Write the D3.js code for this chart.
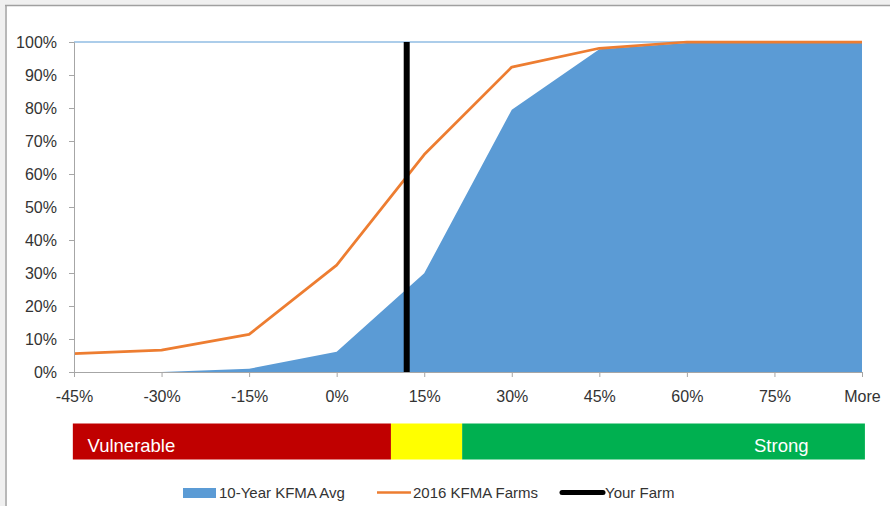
<!DOCTYPE html>
<html>
<head>
<meta charset="utf-8">
<script src="https://cdn.jsdelivr.net/npm/d3@7"></script>
<style>
  html, body { margin: 0; padding: 0; background: #ffffff; }
  svg { display: block; font-family: "Liberation Sans", Arial, sans-serif; }
</style>
</head>
<body>
<svg id="chart" width="890" height="506"></svg>
<script>
// ---- data ----
const categories = ["-45%", "-30%", "-15%", "0%", "15%", "30%", "45%", "60%", "75%", "More"];
const categoryValues = [-45, -30, -15, 0, 15, 30, 45, 60, 75, 90];
const tenYearAvg = [0, 0, 1.0, 6.1, 29.9, 79.5, 97.8, 99.7, 100, 100];
const farms2016 = [5.6, 6.6, 11.4, 32.4, 65.9, 92.4, 98.1, 100, 100, 100];
const yourFarm = 12;
const yTicks = [0, 10, 20, 30, 40, 50, 60, 70, 80, 90, 100];
const bandNames = ["Vulnerable", "", "Strong"];
const bandStarts = [-45.2, 9.3, 21.5];
const bandEnds = [9.3, 21.5, 90.5];
const bandColors = ["#c00000", "#ffff00", "#00b050"];
const legendNames = ["10-Year KFMA Avg", "2016 KFMA Farms", "Your Farm"];

// ---- layout ----
const W = 890, H = 506;
const plot = { left: 74, right: 862, top: 42, bottom: 372 };
const svg = d3.select("#chart");
const textColor = "#333333";
const axisColor = "#a6a6a6";

// window frame
svg.append("rect").attr("x", 0).attr("y", 0).attr("width", W).attr("height", 5).attr("fill", "#f0f0f0");
svg.append("rect").attr("x", 0).attr("y", 0).attr("width", 5).attr("height", H).attr("fill", "#f0f0f0");
svg.append("line").attr("x1", 5).attr("x2", W).attr("y1", 5.5).attr("y2", 5.5).attr("stroke", "#a0a0a0").attr("stroke-width", 1.5);
svg.append("line").attr("x1", 6).attr("x2", 6).attr("y1", 5).attr("y2", H).attr("stroke", "#a0a0a0").attr("stroke-width", 1.5);

// scales
const x = d3.scalePoint().domain(categories).range([plot.left, plot.right]);
const xv = d3.scaleLinear().domain([categoryValues[0], categoryValues[categoryValues.length - 1]]).range([plot.left, plot.right]);
const y = d3.scaleLinear().domain([0, 100]).range([plot.bottom, plot.top]);

// area (10-Year avg)
const area = d3.area()
  .x((d, i) => x(categories[i]))
  .y0(y(0))
  .y1(d => y(d));
svg.append("path").datum(tenYearAvg).attr("d", area).attr("fill", "#5b9bd5");

// top line at 100%
svg.append("line")
  .attr("x1", plot.left).attr("x2", plot.right)
  .attr("y1", y(100)).attr("y2", y(100))
  .attr("stroke", "#5b9bd5").attr("stroke-width", 1.2);

// orange line
const line = d3.line().x((d, i) => x(categories[i])).y(d => y(d));
svg.append("path").datum(farms2016).attr("d", line)
  .attr("fill", "none").attr("stroke", "#ed7d31").attr("stroke-width", 2.75)
  .attr("stroke-linejoin", "round");

// y axis
const yAxis = d3.axisLeft(y).tickValues(yTicks).tickSize(5).tickPadding(12).tickFormat(d => d + "%");
const gy = svg.append("g").attr("transform", `translate(${plot.left},0)`).call(yAxis);
gy.select(".domain").attr("stroke", axisColor);
gy.selectAll(".tick line").attr("stroke", axisColor);
gy.selectAll(".tick text").attr("fill", textColor).style("font-size", "16px")
  .style("font-family", '"Liberation Sans", Arial, sans-serif');

// x axis
const xAxis = d3.axisBottom(x).tickSize(5).tickPadding(14);
const gx = svg.append("g").attr("transform", `translate(0,${plot.bottom})`).call(xAxis);
gx.select(".domain").attr("stroke", axisColor).attr("d", `M${plot.left},0.5H${plot.right}`);
gx.selectAll(".tick line").attr("stroke", axisColor);
gx.selectAll(".tick text").attr("fill", textColor).style("font-size", "16px")
  .style("font-family", '"Liberation Sans", Arial, sans-serif');

// your farm vertical line
svg.append("line")
  .attr("x1", xv(yourFarm)).attr("x2", xv(yourFarm))
  .attr("y1", y(0)).attr("y2", y(100))
  .attr("stroke", "#000000").attr("stroke-width", 6);

// color band
const bandTop = 423.5, bandH = 36;
const bands = svg.append("g");
bandColors.forEach((c, i) => {
  bands.append("rect")
    .attr("x", xv(bandStarts[i])).attr("y", bandTop)
    .attr("width", xv(bandEnds[i]) - xv(bandStarts[i])).attr("height", bandH)
    .attr("fill", c);
});
bands.append("text").attr("x", 87.5).attr("y", 451.5).attr("fill", "#ffffff")
  .style("font-size", "18.5px").text(bandNames[0]);
bands.append("text").attr("x", 754).attr("y", 451.5).attr("fill", "#ffffff")
  .style("font-size", "18.5px").text(bandNames[2]);

// legend
const lg = svg.append("g").style("font-size", "15px").attr("fill", textColor);
lg.append("rect").attr("x", 183).attr("y", 488).attr("width", 33).attr("height", 10).attr("fill", "#5b9bd5");
lg.append("text").attr("x", 219).attr("y", 497.5).text(legendNames[0]);
lg.append("line").attr("x1", 377).attr("x2", 411).attr("y1", 492.5).attr("y2", 492.5)
  .attr("stroke", "#ed7d31").attr("stroke-width", 2.5);
lg.append("text").attr("x", 413).attr("y", 497.5).text(legendNames[1]);
lg.append("line").attr("x1", 562).attr("x2", 603).attr("y1", 492.5).attr("y2", 492.5)
  .attr("stroke", "#000000").attr("stroke-width", 5).attr("stroke-linecap", "round");
lg.append("text").attr("x", 605).attr("y", 497.5).text(legendNames[2]);
</script>
</body>
</html>
